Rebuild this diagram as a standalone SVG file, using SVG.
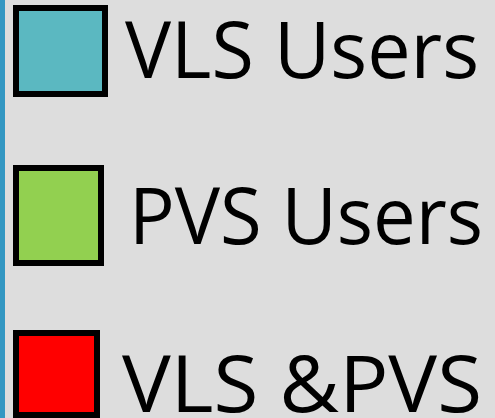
<svg xmlns="http://www.w3.org/2000/svg" width="495" height="418" viewBox="0 0 495 418">
<style>
.sw{stroke:#000;stroke-width:6}
.lbl{font-family:"Open Sans","Liberation Sans",sans-serif;font-size:78px;fill:#000}
</style>
<rect x="0" y="0" width="495" height="418" fill="#dddddd"/>
<rect x="0" y="0" width="5" height="418" fill="#3397c2"/>
<g id="legend-vls">
<rect class="sw" x="16" y="8" width="89" height="86" fill="#5bb8c1"/>
<text class="lbl" x="125" y="78" textLength="354" lengthAdjust="spacingAndGlyphs">VLS Users</text>
</g>
<g id="legend-pvs">
<rect class="sw" x="16" y="168" width="85" height="95" fill="#92d050"/>
<text class="lbl" x="129" y="244" textLength="354" lengthAdjust="spacingAndGlyphs">PVS Users</text>
</g>
<g id="legend-both">
<rect class="sw" x="16" y="333" width="81" height="82" fill="#ff0000"/>
<text class="lbl" x="122" y="412" textLength="360" lengthAdjust="spacingAndGlyphs">VLS &amp;PVS</text>
</g>
<g id="connectors"></g>
</svg>
